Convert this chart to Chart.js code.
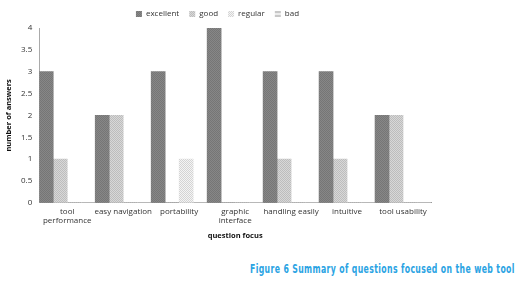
<!DOCTYPE html>
<html>
<head>
<meta charset="utf-8">
<script src="https://cdn.jsdelivr.net/npm/chart.js@4"></script>
<style>
  html, body { margin: 0; padding: 0; background: #fff; }
  #wrap { position: relative; width: 518px; height: 283px; }
  #chart-box { position: absolute; left: 0; top: 0; width: 440px; height: 240px; }
  #caption {
    position: absolute; left: 250px; top: 261px; white-space: nowrap;
    font-family: 'DejaVu Sans', sans-serif;
    font-weight: bold; font-size: 12.5px; color: #2aa3e3; letter-spacing: 0.6px;
    transform-origin: 0 0; transform: scaleX(0.62);
  }
</style>
</head>
<body>
<div id="wrap">
  <div id="chart-box"><canvas id="chart"></canvas></div>
  <div id="caption">Figure 6 Summary of questions focused on the web tool</div>
</div>
<script>
// chart data
const categories = [['tool', 'performance'], 'easy navigation', 'portability', ['graphic', 'interface'], 'handling easily', 'intuitive', 'tool usability'];
const seriesNames = ['excellent', 'good', 'regular', 'bad'];
const excellent = [3, 2, 3, 4, 3, 3, 2];
const good = [1, 2, 0, 0, 1, 1, 2];
const regular = [0, 0, 1, 0, 0, 0, 0];
const bad = [0, 0, 0, 0, 0, 0, 0];

// small texture patterns to look like the printed hatching
function makePattern(base, dot, step) {
    const c = document.createElement('canvas');
    c.width = 4; c.height = 4;
    const g = c.getContext('2d');
    g.fillStyle = base;
    g.fillRect(0, 0, 4, 4);
    g.fillStyle = dot;
    for (let y = 0; y < 4; y++) {
        for (let x = 0; x < 4; x++) {
            if ((x * 3 + y) % step === 0) g.fillRect(x, y, 1, 1);
        }
    }
    return g.createPattern(c, 'repeat');
}

const excellentFill = makePattern('#878787', '#767676', 2);
const goodFill = makePattern('#d8d8d8', '#bdbdbd', 2);
const regularFill = makePattern('#f4f4f4', '#d4d4d4', 2);
const badFill = makePattern('#ececec', '#c8c8c8', 3);

const tickFont = { family: 'Open Sans', size: 8 };

const ctx = document.getElementById('chart').getContext('2d');
new Chart(ctx, {
    type: 'bar',
    data: {
        labels: categories,
        datasets: [
            { label: seriesNames[0], data: excellent, backgroundColor: excellentFill },
            { label: seriesNames[1], data: good, backgroundColor: goodFill },
            { label: seriesNames[2], data: regular, backgroundColor: regularFill },
            { label: seriesNames[3], data: bad, backgroundColor: badFill }
        ]
    },
    options: {
        responsive: true,
        maintainAspectRatio: false,
        animation: false,
        datasets: {
            bar: { categoryPercentage: 1.0, barPercentage: 1.0 }
        },
        layout: { padding: { left: 4, right: 9, top: 0, bottom: 0 } },
        plugins: {
            legend: {
                position: 'top',
                labels: {
                    boxWidth: 6,
                    boxHeight: 6,
                    padding: 10,
                    color: '#333',
                    font: tickFont
                }
            },
            tooltip: { enabled: false }
        },
        scales: {
            x: {
                grid: { display: false, drawTicks: false },
                border: { color: '#999' },
                ticks: { color: '#333', font: tickFont, maxRotation: 0, autoSkip: false, padding: 4 },
                title: {
                    display: true,
                    text: 'question focus',
                    color: '#111',
                    font: { family: 'Open Sans', size: 7.5, weight: 'bold' },
                    padding: { top: 1, bottom: 0 }
                }
            },
            y: {
                min: 0,
                max: 4,
                grid: { display: false, tickLength: 3 },
                border: { color: '#aaa' },
                ticks: {
                    stepSize: 0.5, color: '#333', font: tickFont, padding: 4,
                    callback: function (value) { return String(value); }
                },
                title: {
                    display: true,
                    text: 'number of answers',
                    color: '#111',
                    font: { family: 'Open Sans', size: 7.5, weight: 'bold' },
                    padding: { top: 0, bottom: 4 }
                }
            }
        }
    }
});
</script>
</body>
</html>
